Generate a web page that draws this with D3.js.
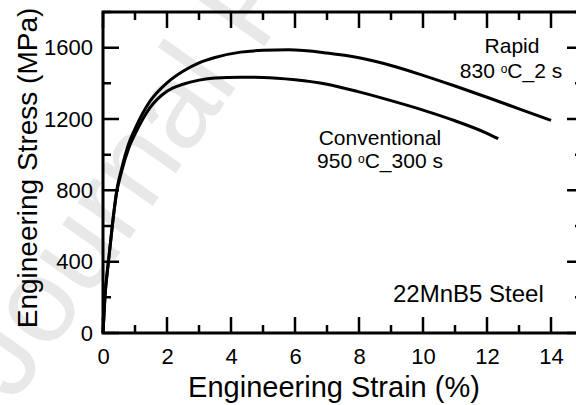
<!DOCTYPE html>
<html>
<head>
<meta charset="utf-8">
<script src="https://cdn.jsdelivr.net/npm/d3@7"></script>
<style>
  body { margin: 0; background: #fff; }
  text { font-family: "Liberation Sans", Arial, sans-serif; fill: #000; }
</style>
</head>
<body>
<div id="chart"></div>
<script>
// strain (%) / stress (MPa)
var rapidStrain = [0, 0.06, 0.17, 0.29, 0.43, 0.58, 0.8, 1.0, 1.47, 2.0, 2.5, 3.0, 3.5, 4.3, 5.0, 5.8, 7.0, 8.0, 9.0, 10.0, 11.0, 12.0, 13.0, 14.0];
var rapidStress = [0, 200, 400, 600, 800, 920, 1060, 1145, 1300, 1403, 1468, 1515, 1545, 1575, 1585, 1588, 1570, 1543, 1500, 1445, 1385, 1322, 1257, 1192];

var convStrain = [0, 0.06, 0.17, 0.29, 0.43, 0.58, 0.8, 1.0, 1.47, 2.0, 2.5, 3.0, 3.5, 4.3, 5.0, 6.0, 7.0, 8.0, 9.0, 10.0, 11.0, 12.0, 12.35];
var convStress = [0, 200, 400, 600, 790, 905, 1035, 1115, 1264, 1356, 1395, 1418, 1430, 1434, 1433, 1420, 1395, 1352, 1303, 1250, 1190, 1120, 1090];

var xMajor = [0, 2, 4, 6, 8, 10, 12, 14];
var xMinor = [1, 3, 5, 7, 9, 11, 13, 15];
var yMajor = [0, 400, 800, 1200, 1600];
var yMinor = [200, 600, 1000, 1400, 1800];

var width = 576, height = 405;
var pLeft = 103, pRight = 583, pTop = 12, pBottom = 333;

var svg = d3.select('#chart').append('svg')
  .attr('width', width).attr('height', height);

// faint watermark behind the plot
svg.append('text')
  .attr('transform', 'translate(14,404) rotate(-55)')
  .style('font-size', '120px')
  .style('fill', '#e8e8e8')
  .text('Journal Pre-proof');

var x = d3.scaleLinear().domain([0, 15]).range([pLeft, pRight]);
var y = d3.scaleLinear().domain([0, 1800]).range([pBottom, pTop]);

// tick labels only, via d3 axes
var gx = svg.append('g').attr('transform', 'translate(0,' + pBottom + ')')
  .call(d3.axisBottom(x).tickValues(xMajor).tickSize(0).tickPadding(15).tickFormat(d3.format('d')));
var gy = svg.append('g').attr('transform', 'translate(' + pLeft + ',0)')
  .call(d3.axisLeft(y).tickValues(yMajor).tickSize(0).tickPadding(10).tickFormat(d3.format('d')));
[gx, gy].forEach(function(g) {
  g.select('.domain').remove();
  g.attr('font-family', null).attr('font-size', null);
  g.selectAll('text').style('font-size', '22px');
});

svg.append('rect')
  .attr('x', pLeft).attr('y', pTop)
  .attr('width', pRight - pLeft).attr('height', pBottom - pTop)
  .attr('fill', 'none').attr('stroke', '#000').attr('stroke-width', 3);

// inward tick marks on all four sides
function tickPath(vals, len) {
  var d = '';
  vals.forEach(function(v) {
    d += 'M' + x(v) + ',' + pBottom + 'V' + (pBottom - len);
    d += 'M' + x(v) + ',' + pTop + 'V' + (pTop + len);
  });
  return d;
}
function tickPathY(vals, len) {
  var d = '';
  vals.forEach(function(v) {
    d += 'M' + pLeft + ',' + y(v) + 'H' + (pLeft + len);
    d += 'M' + pRight + ',' + y(v) + 'H' + (pRight - len);
  });
  return d;
}
svg.append('path')
  .attr('d', tickPath(xMajor, 16) + tickPath(xMinor, 8) + tickPathY(yMajor, 16) + tickPathY(yMinor, 8))
  .attr('fill', 'none').attr('stroke', '#000').attr('stroke-width', 2.5);

var line = d3.line()
  .x(function(d) { return x(d[0]); })
  .y(function(d) { return y(d[1]); })
  .curve(d3.curveMonotoneX);

svg.append('path')
  .datum(d3.zip(rapidStrain, rapidStress))
  .attr('d', line).attr('fill', 'none').attr('stroke', '#000').attr('stroke-width', 3);
svg.append('path')
  .datum(d3.zip(convStrain, convStress))
  .attr('d', line).attr('fill', 'none').attr('stroke', '#000').attr('stroke-width', 3);

// axis titles
svg.append('text')
  .attr('x', 334).attr('y', 397)
  .attr('text-anchor', 'middle')
  .style('font-size', '29px')
  .text('Engineering Strain (%)');
svg.append('text')
  .attr('transform', 'translate(37,168) rotate(-90)')
  .attr('text-anchor', 'middle')
  .style('font-size', '28px')
  .text('Engineering Stress (MPa)');

// annotations
function label(cx, by, parts) {
  var t = svg.append('text').attr('x', cx).attr('y', by)
    .attr('text-anchor', 'middle').style('font-size', '21px');
  t.append('tspan').text(parts[0]);
  if (parts.length > 1) {
    t.append('tspan').attr('dy', -5).style('font-size', '12px').text(parts[1]);
    t.append('tspan').attr('dy', 5).text(parts[2]);
  }
}
label(512, 53, ['Rapid']);
label(511, 78, ['830 ', 'o', 'C_2 s']);
label(380, 145, ['Conventional']);
label(380, 168, ['950 ', 'o', 'C_300 s']);

svg.append('text')
  .attr('x', 393).attr('y', 302)
  .style('font-size', '24px')
  .text('22MnB5 Steel');
</script>
</body>
</html>
